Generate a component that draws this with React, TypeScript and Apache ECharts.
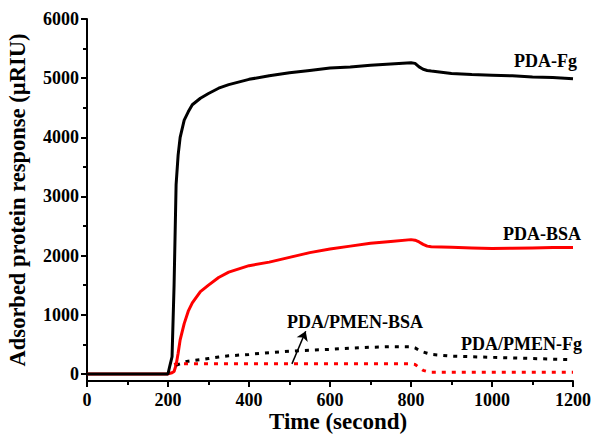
import React, { useEffect, useRef } from "react";
import * as echarts from "echarts";

const times = [0, 200, 205, 210, 215, 220, 225, 230, 240, 250, 260, 280, 300, 325, 350, 400, 450, 500, 550, 600, 650, 700, 750, 800, 810, 820, 830, 840, 850, 875, 900, 950, 1000, 1050, 1100, 1150, 1200];
const pdaFg = [0, 0, 150, 290, 1500, 3200, 3700, 4000, 4290, 4430, 4550, 4660, 4740, 4830, 4890, 4980, 5040, 5090, 5130, 5170, 5190, 5220, 5240, 5260, 5250, 5190, 5150, 5130, 5120, 5100, 5080, 5060, 5050, 5040, 5020, 5010, 4990];
const pdaBsa = [0, 0, 10, 20, 40, 150, 350, 575, 850, 1060, 1200, 1390, 1500, 1630, 1720, 1830, 1890, 1970, 2050, 2110, 2160, 2210, 2240, 2270, 2260, 2230, 2190, 2160, 2150, 2145, 2140, 2130, 2120, 2125, 2130, 2135, 2135];
const pmenFg = [null, null, null, null, null, 150, 160, 170, 200, 215, 225, 240, 260, 285, 305, 330, 360, 385, 400, 415, 435, 450, 460, 460, 440, 400, 370, 350, 330, 315, 300, 290, 280, 270, 260, 250, 240];
const pmenBsa = [null, null, null, null, 160, 170, 172, 172, 172, 172, 172, 172, 172, 172, 172, 172, 172, 172, 172, 172, 172, 172, 172, 172, 160, 110, 60, 40, 30, 30, 30, 30, 30, 30, 30, 30, 30];
const yMajor = [0, 1000, 2000, 3000, 4000, 5000, 6000];
const yMinor = [500, 1500, 2500, 3500, 4500, 5500];
const arrowFrom = [506, 170];
const arrowTo = [540, 720];

const FONT = "'Liberation Serif', 'Times New Roman', serif";

const pairs = (vals: (number | null)[]) => times.map((t, i) => [t, vals[i]]);
const plain = (v: number) => String(v);

export default function App() {
  const ref = useRef<HTMLDivElement>(null);
  useEffect(() => {
    if (!ref.current) return;
    const chart = echarts.init(ref.current, null, { renderer: "svg" });
    const labelStyle = { fontFamily: FONT, fontWeight: "bold", fontSize: 18, fill: "#000" };
    chart.setOption({
      animation: false,
      backgroundColor: "#fff",
      grid: { left: 87, right: 24, top: 19, bottom: 56, outerBoundsMode: "none", containLabel: false },
      xAxis: {
        type: "value",
        min: 0,
        max: 1200,
        interval: 200,
        axisLine: { onZero: false, lineStyle: { color: "#000", width: 2 } },
        axisTick: { length: 6, lineStyle: { color: "#000", width: 2 } },
        minorTick: { show: true, splitNumber: 2, length: 4, lineStyle: { color: "#000", width: 2 } },
        axisLabel: { formatter: plain, fontFamily: FONT, fontWeight: "bold", fontSize: 18, color: "#000", margin: 10 },
        splitLine: { show: false },
      },
      yAxis: [
        {
          type: "value",
          min: -120,
          max: 6000,
          name: "Adsorbed protein response (\u00b5RIU)",
          nameLocation: "middle",
          nameGap: 58,
          nameTextStyle: { fontFamily: FONT, fontWeight: "bold", fontSize: 22.5, color: "#000" },
          axisLine: { show: true, lineStyle: { color: "#000", width: 2 } },
          axisTick: { show: true, length: 6, customValues: yMajor, lineStyle: { color: "#000", width: 2 } },
          axisLabel: { customValues: yMajor, formatter: plain, fontFamily: FONT, fontWeight: "bold", fontSize: 18, color: "#000", margin: 8 },
          splitLine: { show: false },
        },
        {
          type: "value",
          min: -120,
          max: 6000,
          position: "left",
          axisLine: { show: false },
          axisTick: { show: true, length: 4, customValues: yMinor, lineStyle: { color: "#000", width: 2 } },
          axisLabel: { show: false },
          splitLine: { show: false },
        },
      ],
      series: [
        {
          name: "PDA-Fg",
          type: "line",
          data: pairs(pdaFg),
          showSymbol: false,
          lineStyle: { color: "#000", width: 3 },
          z: 4,
        },
        {
          name: "PDA-BSA",
          type: "line",
          data: pairs(pdaBsa),
          showSymbol: false,
          lineStyle: { color: "#ff0000", width: 3 },
          z: 3,
        },
        {
          name: "PDA/PMEN-Fg",
          type: "line",
          data: pairs(pmenFg),
          showSymbol: false,
          connectNulls: false,
          lineStyle: { color: "#000", width: 3, type: [4, 6] },
        },
        {
          name: "PDA/PMEN-BSA",
          type: "line",
          data: pairs(pmenBsa),
          showSymbol: false,
          connectNulls: false,
          lineStyle: { color: "#ff0000", width: 3, type: [4, 6] },
          markLine: {
            silent: true,
            symbol: ["none", "arrow"],
            symbolSize: 9,
            label: { show: false },
            lineStyle: { color: "#000", width: 1.5, type: "solid" },
            data: [[{ coord: arrowFrom }, { coord: arrowTo }]],
          },
        },
      ],
      graphic: [
        { type: "text", left: 269, top: 410, style: { fontFamily: FONT, fontWeight: "bold", fontSize: 23, fill: "#000", text: "Time (second)" } },
        { type: "text", left: 514, top: 52, style: { ...labelStyle, text: "PDA-Fg" } },
        { type: "text", left: 503, top: 225, style: { ...labelStyle, text: "PDA-BSA" } },
        { type: "text", left: 287, top: 313, style: { ...labelStyle, text: "PDA/PMEN-BSA" } },
        { type: "text", left: 461, top: 335, style: { ...labelStyle, text: "PDA/PMEN-Fg" } },
      ],
    });
    return () => chart.dispose();
  }, []);
  return <div ref={ref} style={{ position: "fixed", left: 0, top: 0, width: 597, height: 437 }} />;
}
